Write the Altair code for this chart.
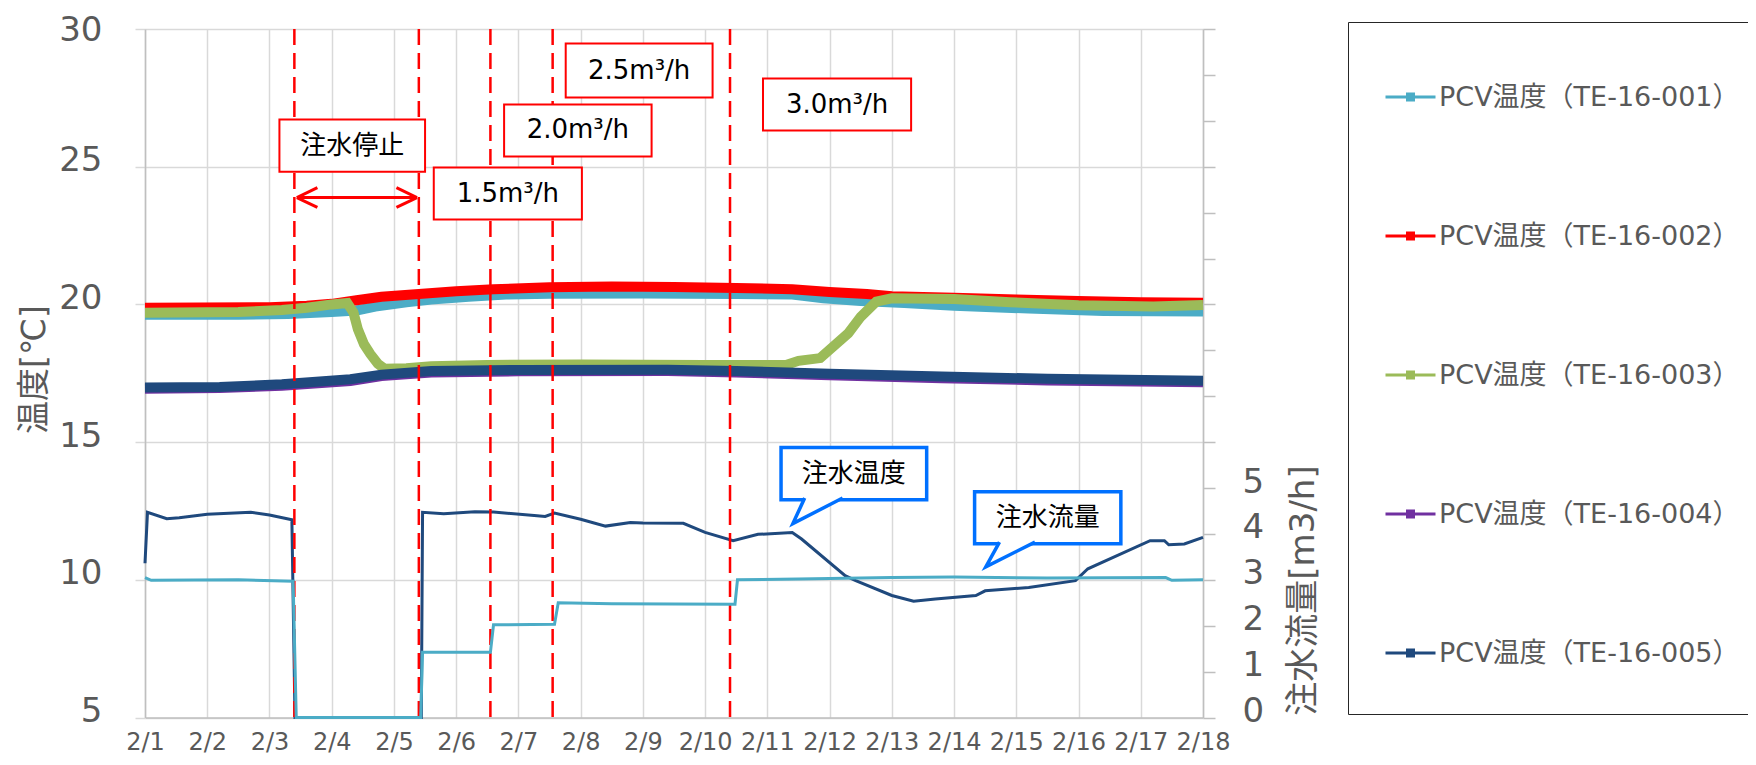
import altair as alt
import pandas as pd

LATIN = "DejaVu Sans, Noto Sans CJK JP"
GRAY = "#595959"
GRID = "#d9d9d9"
AXIS = "#bfbfbf"

# ---------------- data ----------------
day_labels = ["2/1", "2/2", "2/3", "2/4", "2/5", "2/6", "2/7", "2/8", "2/9",
              "2/10", "2/11", "2/12", "2/13", "2/14", "2/15", "2/16", "2/17", "2/18"]
day_ticks = list(range(18))

series_names = ["PCV温度（TE-16-001）", "PCV温度（TE-16-002）", "PCV温度（TE-16-003）",
                "PCV温度（TE-16-004）", "PCV温度（TE-16-005）"]
series_colors = ["#4bacc6", "#ff0000", "#9bbb59", "#7030a0", "#1f497d"]

te001_day = [0, 1.5, 2.3, 3.0, 3.4, 3.7, 4.2, 4.6, 5.2, 5.8, 6.5, 8.0, 9.5, 10.4, 10.9, 11.5, 12.2, 13.0, 14.2, 15.4, 17.0]
te001_val = [19.62, 19.62, 19.65, 19.72, 19.78, 19.92, 20.08, 20.18, 20.28, 20.36, 20.39, 20.40, 20.38, 20.36, 20.22, 20.12, 20.05, 19.95, 19.85, 19.76, 19.74]

te002_day = [0, 2.0, 2.6, 3.0, 3.4, 3.8, 4.4, 5.0, 5.6, 6.5, 7.5, 8.5, 9.5, 10.4, 11.0, 11.6, 12.0, 13.0, 14.0, 15.0, 16.0, 17.0]
te002_val = [19.88, 19.90, 19.95, 20.02, 20.15, 20.28, 20.38, 20.48, 20.55, 20.62, 20.65, 20.63, 20.60, 20.55, 20.45, 20.38, 20.30, 20.24, 20.18, 20.12, 20.08, 20.06]

te003_day = [0, 1.5, 2.2, 2.6, 3.0, 3.25, 3.35, 3.42, 3.52, 3.62, 3.74, 3.85, 4.2, 4.6, 5.5, 7.0, 9.0, 10.3, 10.5, 10.85,
             11.05, 11.3, 11.5, 11.75, 12.0, 13.0, 13.9, 15.0, 16.2, 17.0]
te003_val = [19.70, 19.72, 19.80, 19.88, 20.00, 20.05, 19.70, 19.10, 18.55, 18.20, 17.85, 17.66, 17.68, 17.75, 17.80, 17.82, 17.80, 17.80, 17.95, 18.05,
             18.45, 18.95, 19.55, 20.10, 20.22, 20.20, 20.08, 19.97, 19.92, 19.98]

te004_day = [0, 1.2, 2.2, 3.3, 3.8, 4.6, 6.0, 8.4, 9.5, 11.0, 12.8, 14.5, 17.0]
te004_val = [16.94, 16.96, 17.05, 17.22, 17.40, 17.53, 17.57, 17.58, 17.53, 17.43, 17.32, 17.24, 17.17]

te005_day = [0, 1.2, 2.2, 3.3, 3.8, 4.6, 6.0, 8.4, 9.5, 11.0, 12.8, 14.5, 17.0]
te005_val = [16.98, 17.00, 17.10, 17.28, 17.45, 17.58, 17.62, 17.63, 17.58, 17.48, 17.38, 17.30, 17.23]

inj_temp_day = [0, 0.04, 0.35, 0.55, 1.0, 1.7, 2.0, 2.36, 2.41, 4.44, 4.46, 4.8, 5.3, 5.6, 6.3, 6.43, 6.58, 7.0, 7.4,
                7.8, 8.0, 8.65, 9.0, 9.45, 9.85, 10.4, 10.55, 11.25, 11.42, 12.0, 12.35, 12.7, 13.35, 13.5, 14.2,
                14.95, 15.15, 16.15, 16.38, 16.45, 16.7, 17.0]
inj_temp_val = [10.6, 12.45, 12.22, 12.25, 12.38, 12.45, 12.35, 12.18, 5.0, 5.0, 12.45, 12.40, 12.47, 12.46, 12.33, 12.30, 12.42, 12.20, 11.95,
                12.08, 12.06, 12.05, 11.72, 11.42, 11.65, 11.72, 11.48, 10.15, 9.97, 9.43, 9.22, 9.30, 9.43, 9.60, 9.72,
                9.97, 10.40, 11.42, 11.42, 11.27, 11.30, 11.54]

flow_day = [0, 0.1, 1.5, 2.38, 2.43, 4.43, 4.46, 5.55, 5.6, 6.58, 6.64, 7.5, 9.48, 9.52, 10.5, 12.0, 13.0, 14.5, 16.4, 16.5, 17.0]
flow_val = [3.05, 2.99, 3.00, 2.97, 0.0, 0.0, 1.42, 1.42, 2.02, 2.03, 2.50, 2.48, 2.47, 3.00, 3.02, 3.05, 3.06, 3.04, 3.05, 2.99, 3.00]

change_day = [2.4, 4.4, 5.55, 6.55, 9.4]

note_text = ["注水停止", "1.5m³/h", "2.0m³/h", "2.5m³/h", "3.0m³/h"]
note_x1 = [2.16, 4.64, 5.77, 6.76, 9.93]
note_x2 = [4.50, 7.02, 8.14, 9.12, 12.31]
note_y1 = [24.82, 23.08, 25.37, 27.51, 26.31]
note_y2 = [26.71, 24.97, 27.26, 29.47, 28.20]

arrow_x1 = [2.44, 2.44, 2.44, 4.37, 4.37]
arrow_x2 = [4.37, 2.77, 2.77, 4.04, 4.04]
arrow_y1 = [23.88, 23.88, 23.88, 23.88, 23.88]
arrow_y2 = [23.88, 24.24, 23.52, 24.24, 23.52]

callout_text = ["注水温度", "注水流量"]
callout_x1 = [10.22, 13.33]
callout_x2 = [12.56, 15.68]
callout_y1 = [12.91, 11.31]
callout_y2 = [14.80, 13.20]
tail_id = ["a", "a", "a", "b", "b", "b"]
tail_ord = [0, 1, 2, 0, 1, 2]
tail_day = [10.60, 10.41, 11.21, 13.73, 13.51, 14.30]
tail_val = [12.97, 12.04, 12.97, 11.37, 10.47, 11.37]

# ---------------- frames ----------------
pcv_days = [te001_day, te002_day, te003_day, te004_day, te005_day]
pcv_vals = [te001_val, te002_val, te003_val, te004_val, te005_val]
pcv = pd.concat([pd.DataFrame({"day": d, "temp": v, "series": n})
                 for d, v, n in zip(pcv_days, pcv_vals, series_names)], ignore_index=True)
inj = pd.DataFrame({"day": inj_temp_day, "temp": inj_temp_val})
flow = pd.DataFrame({"day": flow_day, "flow": flow_val})
chg = pd.DataFrame({"day": change_day, "top": 30, "bottom": 5})
notes = pd.DataFrame({"text": note_text, "x1": note_x1, "x2": note_x2, "y1": note_y1, "y2": note_y2})
notes["cx"] = (notes.x1 + notes.x2) / 2
notes["cy"] = (notes.y1 + notes.y2) / 2
arrow = pd.DataFrame({"x1": arrow_x1, "x2": arrow_x2, "y1": arrow_y1, "y2": arrow_y2})
callouts = pd.DataFrame({"text": callout_text, "x1": callout_x1, "x2": callout_x2, "y1": callout_y1, "y2": callout_y2})
callouts["cx"] = (callouts.x1 + callouts.x2) / 2
callouts["cy"] = (callouts.y1 + callouts.y2) / 2
tails = pd.DataFrame({"id": tail_id, "ord": tail_ord, "day": tail_day, "temp": tail_val})

# ---------------- scales / axes ----------------
xscale = alt.Scale(domain=[0, 17], nice=False, zero=False)
yscale = alt.Scale(domain=[5, 30], nice=False, zero=False)
y2scale = alt.Scale(domain=[0, 15], nice=False, zero=False)

label_expr = "[" + ",".join("'%s'" % s for s in day_labels) + "][datum.value]"

xaxis = alt.Axis(values=day_ticks, labelExpr=label_expr, title=None, grid=True, gridColor=GRID,
                 gridWidth=1.5, ticks=False, domainColor=AXIS, domainWidth=1.5, labelFont=LATIN,
                 labelFontSize=24, labelColor=GRAY, labelPadding=13, labelFlush=False, labelOverlap=False)

yaxis = alt.Axis(values=[5, 10, 15, 20, 25, 30], title="温度[℃]", grid=True, gridColor=GRID, gridWidth=1.5,
                 tickSize=10, tickColor=GRID, tickWidth=1.5, domainColor=AXIS, domainWidth=1.5,
                 labelFont="DejaVu Sans", labelFontSize=34, labelColor=GRAY, labelPadding=33,
                 labelOffset={"condition": {"test": "datum.value == 30", "value": 1}, "value": -6},
                 titleFont=LATIN, titleFontSize=33, titleFontWeight="normal", titleColor=GRAY,
                 titleAngle=270, titleX=-111, titleY=340, titleAlign="center", titleBaseline="middle")

y2axis = alt.Axis(orient="right", values=list(range(16)), labelExpr="datum.value <= 5 ? datum.label : ''",
                  grid=False, tickSize=12, tickColor=AXIS, tickWidth=1.5, domainColor=AXIS, domainWidth=1.5,
                  labelFont="DejaVu Sans", labelFontSize=34, labelColor=GRAY, labelPadding=27, labelOffset=-6,
                  title="注水流量[m3/h]", titleFont=LATIN, titleFontSize=34, titleFontWeight="normal",
                  titleColor=GRAY, titleAngle=270, titleX=100, titleY=561, titleAlign="center",
                  titleBaseline="middle")


def X(f):
    return alt.X(f, type="quantitative", scale=xscale, axis=xaxis)


def Y(f):
    return alt.Y(f, type="quantitative", scale=yscale, axis=yaxis)


SYMBOL = "M-1,0.5L1,0.5M-0.12,0.38L0.12,0.38L0.12,0.62L-0.12,0.62Z M0,-1.6M0,1.24"
legend = alt.Legend(title=None, orient="none", legendX=1203, legendY=-7, direction="vertical",
                    padding=36, strokeColor="#262626", fillColor="white",
                    symbolType=SYMBOL, symbolSize=2500, symbolStrokeWidth=3, labelOffset=2,
                    labelBaseline="top",
                    labelFont=LATIN, labelFontSize=27, labelColor=GRAY, labelLimit=600, rowPadding=55)

pcv_layer = alt.Chart(pcv).mark_line(strokeWidth=10).encode(
    x=X("day"), y=Y("temp"),
    color=alt.Color("series:N", scale=alt.Scale(domain=series_names, range=series_colors), legend=legend),
)
inj_layer = alt.Chart(inj).mark_line(color="#1f497d", strokeWidth=3).encode(x=X("day"), y=Y("temp"))
chg_layer = alt.Chart(chg).mark_rule(color="#ff0000", strokeWidth=2.5, strokeDash=[16, 8]).encode(
    x=X("day"), y=Y("top"), y2=alt.Y2("bottom"))
arrow_layer = alt.Chart(arrow).mark_rule(color="#ff0000", strokeWidth=3).encode(
    x=X("x1"), x2=alt.X2("x2"), y=Y("y1"), y2=alt.Y2("y2"))
note_box = alt.Chart(notes).mark_rect(fill="white", stroke="#ff0000", strokeWidth=2).encode(
    x=X("x1"), x2=alt.X2("x2"), y=Y("y1"), y2=alt.Y2("y2"))
note_txt = alt.Chart(notes).mark_text(font=LATIN, fontSize=26, color="black", align="center",
                                      baseline="middle").encode(x=X("cx"), y=Y("cy"), text="text:N")
call_box = alt.Chart(callouts).mark_rect(fill="white", stroke="#0070ff", strokeWidth=3.5).encode(
    x=X("x1"), x2=alt.X2("x2"), y=Y("y1"), y2=alt.Y2("y2"))
call_tail = alt.Chart(tails).mark_line(fill="white", stroke="#0070ff", strokeWidth=3.5).encode(
    x=X("day"), y=Y("temp"), detail="id:N", order="ord:Q")
call_txt = alt.Chart(callouts).mark_text(font=LATIN, fontSize=26, color="black", align="center",
                                         baseline="middle").encode(x=X("cx"), y=Y("cy"), text="text:N")

left = alt.layer(pcv_layer, inj_layer, chg_layer, arrow_layer, note_box, note_txt,
                 call_box, call_tail, call_txt)

right = alt.Chart(flow).mark_line(color="#4bacc6", strokeWidth=3).encode(
    x=X("day"), y=alt.Y("flow", type="quantitative", scale=y2scale, axis=y2axis))

chart = alt.layer(left, right).resolve_scale(y="independent").properties(
    width=1058, height=688.5,
    padding={"left": 137, "top": 21, "right": 545, "bottom": 40},
    autosize=alt.AutoSizeParams(type="none"),
    background="white",
).configure_view(strokeWidth=0)

chart.save("out.html", embed_options={"renderer": "svg", "actions": False})
